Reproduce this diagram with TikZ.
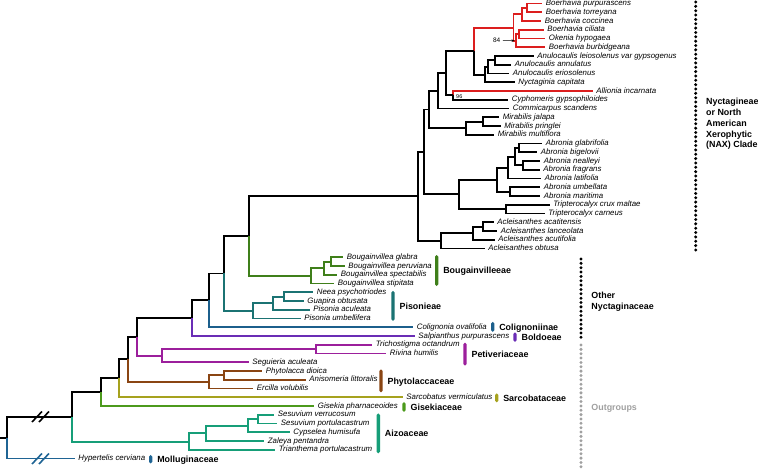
\documentclass[tikz,border=0pt]{standalone}
\usepackage{fontspec}
\setmainfont{Liberation Sans}
\usetikzlibrary{positioning,arrows.meta}

\definecolor{redc}{HTML}{DC1E1E}
\definecolor{bougc}{HTML}{3F7F1A}
\definecolor{pisc}{HTML}{1B7373}
\definecolor{colc}{HTML}{1C5F8C}
\definecolor{boldc}{HTML}{6A2DB5}
\definecolor{petc}{HTML}{9C1F9C}
\definecolor{phyc}{HTML}{8A4513}
\definecolor{sarc}{HTML}{A6A21E}
\definecolor{gisc}{HTML}{4C9A1C}
\definecolor{aizc}{HTML}{169E78}
\definecolor{molc}{HTML}{1F6494}
\definecolor{outc}{HTML}{A0A0A0}

\begin{document}
\begin{tikzpicture}
[x=1pt, y=-1pt, line width=1.9pt,
 taxon/.style={anchor=west, inner xsep=3pt, inner ysep=0pt, text height=5.7pt, text depth=1.5pt,
   font=\fontsize{7.85}{8}\selectfont\itshape},
 bar/.style={draw=none, rounded corners=1.7pt, minimum width=3.4pt, inner sep=0pt},
 clade/.style={inner sep=0pt, text height=6.4pt, text depth=0pt, font=\fontsize{8.9}{10}\selectfont\bfseries},
 group/.style={anchor=west, inner sep=0pt, align=left, font=\fontsize{8.9}{10.75}\selectfont\bfseries},
 support/.style={inner sep=0pt},
 dots/.style={line width=3.3pt, line cap=round, dash pattern=on 0pt off 4.35pt}]
\useasboundingbox (0,0) rectangle (758,472);

% Nyctagineae (NAX) tips
\node[taxon] (Bpur) at (542,3.5) {Boerhavia purpurascens};
\node[taxon] (Btor) at (542,12.25) {Boerhavia torreyana};
\node[taxon] (Bcoc) at (541,21) {Boerhavia coccinea};
\node[taxon] (Bcil) at (543.5,29.75) {Boerhavia ciliata};
\node[taxon] (Ohyp) at (545,38.5) {Okenia hypogaea};
\node[taxon] (Bbur) at (545,47.25) {Boerhavia burbidgeana};
\node[taxon] (Alei) at (533.5,56) {Anulocaulis leiosolenus var gypsogenus};
\node[taxon] (Aann) at (511,64.75) {Anulocaulis annulatus};
\node[taxon] (Aeri) at (509,73.5) {Anulocaulis eriosolenus};
\node[taxon] (Ncap) at (514.5,82.25) {Nyctaginia capitata};
\node[taxon] (Ainc) at (592.5,91) {Allionia incarnata};
\node[taxon] (Cgyp) at (508,99.75) {Cyphomeris gypsophiloides};
\node[taxon] (Csca) at (509,108.5) {Commicarpus scandens};
\node[taxon] (Mjal) at (499,117.25) {Mirabilis jalapa};
\node[taxon] (Mpri) at (500.5,126) {Mirabilis pringlei};
\node[taxon] (Mmul) at (494,134.75) {Mirabilis multiflora};
\node[taxon] (Agla) at (542,143.5) {Abronia glabrifolia};
\node[taxon] (Abig) at (537,152.25) {Abronia bigelovii};
\node[taxon] (Anea) at (540,161) {Abronia nealleyi};
\node[taxon] (Afra) at (539.5,169.75) {Abronia fragrans};
\node[taxon] (Alat) at (541,178.5) {Abronia latifolia};
\node[taxon] (Aumb) at (540,187.25) {Abronia umbellata};
\node[taxon] (Amar) at (540,196) {Abronia maritima};
\node[taxon] (Tcru) at (549.5,204.75) {Tripterocalyx crux maltae};
\node[taxon] (Tcar) at (544.5,213.5) {Tripterocalyx carneus};
\node[taxon] (Aaca) at (493.5,222.25) {Acleisanthes acatitensis};
\node[taxon] (Alan) at (497,231) {Acleisanthes lanceolata};
\node[taxon] (Aacu) at (494.5,239.75) {Acleisanthes acutifolia};
\node[taxon] (Aobt) at (484.5,248.5) {Acleisanthes obtusa};

% other Nyctaginaceae and outgroup tips
\node[taxon] (Bgla) at (343,257.25) {Bougainvillea glabra};
\node[taxon] (Bper) at (344.5,266) {Bougainvillea peruviana};
\node[taxon] (Bspe) at (337,274.75) {Bougainvillea spectabilis};
\node[taxon] (Bsti) at (334,283.5) {Bougainvillea stipitata};
\node[taxon] (Npsy) at (313,292.25) {Neea psychotriodes};
\node[taxon] (Gobt) at (303.5,301) {Guapira obtusata};
\node[taxon] (Pacu) at (309.5,309.75) {Pisonia aculeata};
\node[taxon] (Pumb) at (300.5,318.5) {Pisonia umbellifera};
\node[taxon] (Cova) at (413,327.25) {Colignonia ovalifolia};
\node[taxon] (Spur) at (414.5,336) {Salpianthus purpurascens};
\node[taxon] (Toct) at (372,344.75) {Trichostigma octandrum};
\node[taxon] (Rhum) at (386,353.5) {Rivina humilis};
\node[taxon] (Sacu) at (248.5,362.25) {Seguieria aculeata};
\node[taxon] (Pdio) at (262,371) {Phytolacca dioica};
\node[taxon] (Alit) at (305.5,379.75) {Anisomeria littoralis};
\node[taxon] (Evol) at (253,388.5) {Ercilla volubilis};
\node[taxon] (Svmc) at (402.5,397.25) {Sarcobatus vermiculatus};
\node[taxon] (Gpha) at (314,406) {Gisekia pharnaceoides};
\node[taxon] (Sver) at (274,414.75) {Sesuvium verrucosum};
\node[taxon] (Spor) at (277,423.5) {Sesuvium portulacastrum};
\node[taxon] (Chum) at (289.5,432.25) {Cypselea humisufa};
\node[taxon] (Zpen) at (264,441) {Zaleya pentandra};
\node[taxon] (Tpor) at (275,449.75) {Trianthema portulacastrum};
\node[taxon] (Hcer) at (74.5,458.5) {Hypertelis cerviana};

% internal nodes
\coordinate (b01) at (527,7.88);
\coordinate (b012) at (522,14.44);
\coordinate (b34) at (519,34.13);
\coordinate (b345) at (516,40.69);
\coordinate (boer) at (513.5,27.56);
\coordinate (a67) at (495,60.38);
\coordinate (a678) at (488.3,66.94);
\coordinate (anul) at (485,74.59);
\coordinate (n4) at (474.3,51.08);
\coordinate (n5) at (452.7,95.38);
\coordinate (n3) at (446,73.23);
\coordinate (n2) at (437.7,90.86);
\coordinate (m1314) at (483.3,121.63);
\coordinate (mir) at (465.7,128.19);
\coordinate (n1a) at (429.3,109.53);
\coordinate (ab1617) at (519.3,147.88);
\coordinate (ab1819) at (523.3,165.38);
\coordinate (ab1619) at (515,156.63);
\coordinate (ab1620) at (508.3,167.56);
\coordinate (ab2122) at (510,191.63);
\coordinate (abr) at (496.7,179.59);
\coordinate (tri) at (506,209.13);
\coordinate (abtr) at (459.3,194.36);
\coordinate (n1) at (424.3,151.95);
\coordinate (ac2526) at (482.7,226.63);
\coordinate (ac2527) at (472.7,233.19);
\coordinate (acl) at (441,240.84);
\coordinate (nax) at (417.7,196.4);
\coordinate (bg2930) at (330.7,261.63);
\coordinate (bg2931) at (324,268.19);
\coordinate (boug) at (311,275.84);
\coordinate (nI) at (248.7,236.12);
\coordinate (p3334) at (284,296.63);
\coordinate (p3335) at (272.7,303.19);
\coordinate (pis) at (252.7,310.84);
\coordinate (nH) at (224.3,273.48);
\coordinate (nG) at (209.3,300.37);
\coordinate (nF) at (191.7,318.18);
\coordinate (pe3940) at (316,349.13);
\coordinate (pet) at (161.7,355.69);
\coordinate (nE) at (136.7,336.94);
\coordinate (ph4243) at (224.3,375.38);
\coordinate (phy) at (209,381.94);
\coordinate (nD) at (128.3,359.44);
\coordinate (nC) at (119.3,378.34);
\coordinate (nB) at (101,392.17);
\coordinate (az4748) at (257.7,419.13);
\coordinate (az4749) at (248.3,425.69);
\coordinate (az4750) at (205.7,433.34);
\coordinate (aiz) at (189,441.55);
\coordinate (nA) at (72.3,416.86);
\coordinate (root) at (7,437.68);
\coordinate (base) at (0,437.68);

% Boerhavia clade and Allionia
\draw[redc] (b01) |- (Bpur.west);
\draw[redc] (b01) |- (Btor.west);
\draw[redc] (b012) |- (b01);
\draw[redc] (b012) |- (Bcoc.west);
\draw[redc] (b34) |- (Bcil.west);
\draw[redc] (b34) |- (Ohyp.west);
\draw[redc] (b345) |- (b34);
\draw[redc] (b345) |- (Bbur.west);
\draw[redc] (boer) |- (b012);
\draw[redc] (boer) |- (b345);
\draw[redc] (n4) |- (boer);
\draw[redc] (n5) |- (Ainc.west);

% rest of NAX clade
\draw (a67) |- (Alei.west);
\draw (a67) |- (Aann.west);
\draw (a678) |- (a67);
\draw (a678) |- (Aeri.west);
\draw (anul) |- (a678);
\draw (anul) |- (Ncap.west);
\draw (n4) |- (anul);
\draw (n5) |- (Cgyp.west);
\draw (n3) |- (n4);
\draw (n3) |- (n5);
\draw (n2) |- (n3);
\draw (n2) |- (Csca.west);
\draw (m1314) |- (Mjal.west);
\draw (m1314) |- (Mpri.west);
\draw (mir) |- (m1314);
\draw (mir) |- (Mmul.west);
\draw (n1a) |- (n2);
\draw (n1a) |- (mir);
\draw (ab1617) |- (Agla.west);
\draw (ab1617) |- (Abig.west);
\draw (ab1819) |- (Anea.west);
\draw (ab1819) |- (Afra.west);
\draw (ab1619) |- (ab1617);
\draw (ab1619) |- (ab1819);
\draw (ab1620) |- (ab1619);
\draw (ab1620) |- (Alat.west);
\draw (ab2122) |- (Aumb.west);
\draw (ab2122) |- (Amar.west);
\draw (abr) |- (ab1620);
\draw (abr) |- (ab2122);
\draw (tri) |- (Tcru.west);
\draw (tri) |- (Tcar.west);
\draw (abtr) |- (abr);
\draw (abtr) |- (tri);
\draw (n1) |- (n1a);
\draw (n1) |- (abtr);
\draw (ac2526) |- (Aaca.west);
\draw (ac2526) |- (Alan.west);
\draw (ac2527) |- (ac2526);
\draw (ac2527) |- (Aacu.west);
\draw (acl) |- (ac2527);
\draw (acl) |- (Aobt.west);
\draw (nax) |- (n1);
\draw (nax) |- (acl);

% backbone
\draw (nI) |- (nax);
\draw (nH) |- (nI);
\draw (nG) |- (nH);
\draw (nF) |- (nG);
\draw (nE) |- (nF);
\draw (nD) |- (nE);
\draw (nC) |- (nD);
\draw (nB) |- (nC);
\draw (nA) |- (nB);
\draw (root) |- (nA);
\draw (base) -- (root);

% coloured clades
\draw[bougc] (bg2930) |- (Bgla.west);
\draw[bougc] (bg2930) |- (Bper.west);
\draw[bougc] (bg2931) |- (bg2930);
\draw[bougc] (bg2931) |- (Bspe.west);
\draw[bougc] (boug) |- (bg2931);
\draw[bougc] (boug) |- (Bsti.west);
\draw[bougc] (nI) |- (boug);
\draw[pisc] (p3334) |- (Npsy.west);
\draw[pisc] (p3334) |- (Gobt.west);
\draw[pisc] (p3335) |- (p3334);
\draw[pisc] (p3335) |- (Pacu.west);
\draw[pisc] (pis) |- (p3335);
\draw[pisc] (pis) |- (Pumb.west);
\draw[pisc] (nH) |- (pis);
\draw[colc] (nG) |- (Cova.west);
\draw[boldc] (nF) |- (Spur.west);
\draw[petc] (pe3940) |- (Toct.west);
\draw[petc] (pe3940) |- (Rhum.west);
\draw[petc] (pet) |- (pe3940);
\draw[petc] (pet) |- (Sacu.west);
\draw[petc] (nE) |- (pet);
\draw[phyc] (ph4243) |- (Pdio.west);
\draw[phyc] (ph4243) |- (Alit.west);
\draw[phyc] (phy) |- (ph4243);
\draw[phyc] (phy) |- (Evol.west);
\draw[phyc] (nD) |- (phy);
\draw[sarc] (nC) |- (Svmc.west);
\draw[gisc] (nB) |- (Gpha.west);
\draw[aizc] (az4748) |- (Sver.west);
\draw[aizc] (az4748) |- (Spor.west);
\draw[aizc] (az4749) |- (az4748);
\draw[aizc] (az4749) |- (Chum.west);
\draw[aizc] (az4750) |- (az4749);
\draw[aizc] (az4750) |- (Zpen.west);
\draw[aizc] (aiz) |- (az4750);
\draw[aizc] (aiz) |- (Tpor.west);
\draw[aizc] (nA) |- (aiz);
\draw[molc] (root) |- (Hcer.west);

% broken branches
\draw[line width=1.6pt] (32,422) -- (42,411.5);
\draw[line width=1.6pt] (39,422) -- (49,411.5);
\draw[molc, line width=1.6pt] (32,464) -- (42,453.5);
\draw[molc, line width=1.6pt] (39,464) -- (49,453.5);

% support values
\node[support, font=\fontsize{6.5}{7}\selectfont] (bs84) at (496.7,40.5) {84};
\draw[-{Stealth[length=3pt,width=2.6pt]}, line width=0.6pt, shorten <=1.5pt, shorten >=1.5pt] (bs84) -- (b345);
\node[support, font=\fontsize{5.5}{6}\selectfont] (bs96) at (459.3,96.2) {96};

% clade bars
\node[bar, fill=bougc, minimum height=31pt] (barBoug) at (436.7,270.5) {};
\node[clade, right=3pt of barBoug] (labBoug) {Bougainvilleeae};
\node[bar, fill=pisc, minimum height=30pt] (barPis) at (393,305.9) {};
\node[clade, right=3pt of barPis] (labPis) {Pisonieae};
\node[bar, fill=colc, minimum height=10pt] (barCol) at (492.7,326.9) {};
\node[clade, right=3pt of barCol] (labCol) {Colignoniinae};
\node[bar, fill=boldc, minimum height=9.5pt] (barBol) at (515,337) {};
\node[clade, right=3pt of barBol] (labBol) {Boldoeae};
\node[bar, fill=petc, minimum height=23pt] (barPet) at (465,354.2) {};
\node[clade, right=3pt of barPet] (labPet) {Petiveriaceae};
\node[bar, fill=phyc, minimum height=23pt] (barPhy) at (381,380.8) {};
\node[clade, right=3pt of barPhy] (labPhy) {Phytolaccaceae};
\node[bar, fill=sarc, minimum height=9pt] (barSar) at (496.7,397.8) {};
\node[clade, right=3pt of barSar] (labSar) {Sarcobataceae};
\node[bar, fill=gisc, minimum height=9.7pt] (barGis) at (404,406.9) {};
\node[clade, right=3pt of barGis] (labGis) {Gisekiaceae};
\node[bar, fill=aizc, minimum height=40pt] (barAiz) at (378.3,433.3) {};
\node[clade, right=3pt of barAiz] (labAiz) {Aizoaceae};
\node[bar, fill=molc, minimum height=8.5pt] (barMol) at (150.7,459.2) {};
\node[clade, right=3pt of barMol] (labMol) {Molluginaceae};

% groups on the right
\draw[dots] (695.7,2) -- (695.7,253.5);
\draw[dots] (581,259) -- (581,340.7);
\draw[dots, outc] (581,345) -- (581,470);
\node[group] (NAX) at (705.2,124) {Nyctagineae\\or North\\American\\Xerophytic\\(NAX) Clade};
\node[group] (other) at (590.5,301.5) {Other\\Nyctaginaceae};
\node[group, text=outc] (outg) at (590.5,408) {Outgroups};
\end{tikzpicture}
\end{document}
